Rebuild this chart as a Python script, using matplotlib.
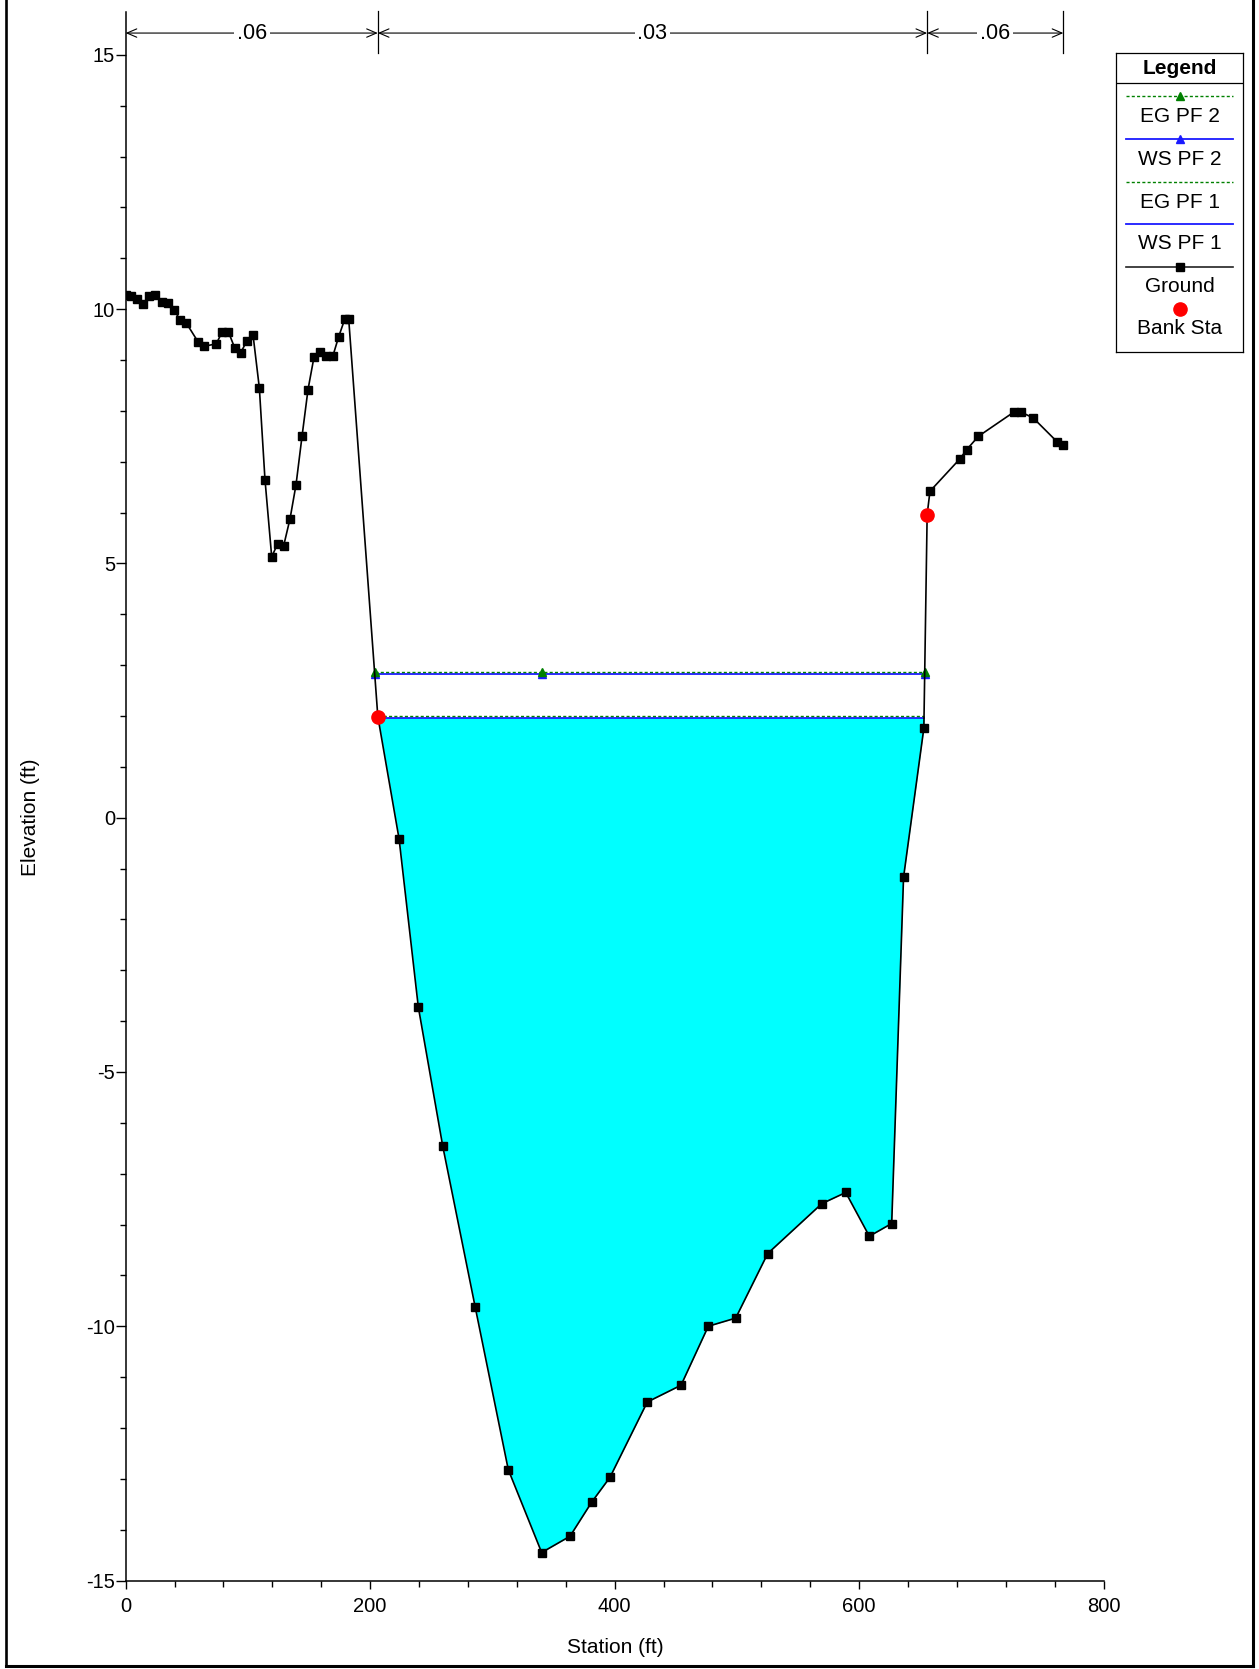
import numpy as np
import matplotlib
matplotlib.use('Agg')
import matplotlib.pyplot as plt
from matplotlib.lines import Line2D
from matplotlib.ticker import MultipleLocator

# ---------------- data ----------------
station = [0, 4.2, 9.1, 14.5, 19.4, 24.3, 29.5, 34.4, 39.6, 44.5, 49.6, 59.2, 64.4,
           74.2, 79.1, 84.0, 89.2, 94.1, 99.0, 104.2, 109.4, 114.0, 119.5, 124.4,
           129.3, 134.5, 139.4, 144.3, 149.2, 154.1, 159.0, 163.9, 169.4, 174.3,
           179.2, 182.5, 206.3, 223.7, 239.4, 259.4, 286.0, 313.0, 340.3, 363.5,
           381.2, 396.2, 426.7, 454.3, 476.6, 499.0, 525.2, 569.4, 589.0, 608.3,
           626.6, 636.3, 652.9, 655.6, 657.9, 682.5, 688.0, 697.5, 726.7, 732.2,
           742.4, 762.0, 767.0]
elevation = [10.27, 10.26, 10.20, 10.10, 10.25, 10.28, 10.14, 10.13, 9.99, 9.79, 9.73,
             9.36, 9.27, 9.32, 9.56, 9.56, 9.24, 9.14, 9.37, 9.50, 8.45, 6.65, 5.13,
             5.39, 5.35, 5.88, 6.55, 7.50, 8.42, 9.06, 9.15, 9.07, 9.07, 9.46, 9.80,
             9.80, 1.99, -0.42, -3.72, -6.46, -9.63, -12.82, -14.45, -14.13, -13.46,
             -12.97, -11.49, -11.16, -10.00, -9.84, -8.57, -7.59, -7.37, -8.23, -7.98,
             -1.17, 1.76, 5.96, 6.42, 7.06, 7.24, 7.50, 7.98, 7.98, 7.86, 7.39, 7.32]
bank_sta = [206.3, 655.6]
ws_pf1 = 1.97
eg_pf1 = 2.00
ws_pf2 = 2.83
eg_pf2 = 2.86
n_values = ['.06', '.03', '.06']
legend_labels = ['EG PF 2', 'WS PF 2', 'EG PF 1', 'WS PF 1', 'Ground', 'Bank Sta']
xticks = [0, 200, 400, 600, 800]
yticks = [-15, -10, -5, 0, 5, 10, 15]

# ---------------- setup ----------------
plt.rcParams['font.family'] = ['Liberation Sans', 'DejaVu Sans']
plt.rcParams['axes.unicode_minus'] = False
W, H = 1259, 1669
fig = plt.figure(figsize=(W / 100, H / 100), dpi=100)
FS = 14.5


def px_rect(l, t, r, b):
    return [l / W, 1 - b / H, (r - l) / W, (b - t) / H]


ax = fig.add_axes(px_rect(125.6, 11.7, 1103.7, 1580.5))
ax.set_xlim(0, 800)
ax.set_ylim(-15, 15.85)

st = np.array(station)
el = np.array(elevation)
i0 = int(np.argmin(el))


def wet_limits(level):
    i = i0
    while el[i - 1] < level:
        i -= 1
    xl = np.interp(level, [el[i], el[i - 1]], [st[i], st[i - 1]])
    j = i0
    while el[j + 1] < level:
        j += 1
    xr = np.interp(level, [el[j], el[j + 1]], [st[j], st[j + 1]])
    return xl, xr


GREEN = '#008000'
BLUE = '#1a1aff'
dash = (0, (2.2, 1.6))

# water fill (PF 1)
xl, xr = wet_limits(ws_pf1)
m = (st > xl) & (st < xr)
xs = np.concatenate([[xl], st[m], [xr]])
ys = np.concatenate([[ws_pf1], el[m], [ws_pf1]])
ax.fill_between(xs, ys, ws_pf1, color='#00ffff', lw=0, zorder=1)

# PF 1 lines
ax.plot([xl, xr], [ws_pf1, ws_pf1], color=BLUE, lw=1.3, zorder=2)
exl, exr = wet_limits(eg_pf1)
ax.plot([exl, exr], [eg_pf1, eg_pf1], color=GREEN, lw=1.0, ls=dash, zorder=2)

# PF 2 lines with markers
wl, wr = wet_limits(ws_pf2)
ax.plot([wl, st[i0], wr], [ws_pf2] * 3, color=BLUE, lw=1.3, marker='^', ms=5.5,
        mfc=BLUE, mec=BLUE, zorder=2)
gl, gr = wet_limits(eg_pf2)
ax.plot([gl, st[i0], gr], [eg_pf2] * 3, color=GREEN, lw=1.0, ls=dash, marker='^', ms=5.5,
        mfc=GREEN, mec=GREEN, zorder=2.5)

# ground
ax.plot(st, el, color='black', lw=1.2, marker='s', ms=6.2, zorder=3)

# bank stations
ax.plot(bank_sta, np.interp(bank_sta, st, el), ls='none', marker='o', ms=9.5,
        color='#ff0000', zorder=4)

# axes styling
for s in ['top', 'right']:
    ax.spines[s].set_visible(False)
for s in ['left', 'bottom']:
    ax.spines[s].set_linewidth(1.1)
ax.set_xticks(xticks)
ax.set_yticks(yticks)
ax.xaxis.set_minor_locator(MultipleLocator(40))
ax.yaxis.set_minor_locator(MultipleLocator(1))
ax.tick_params(axis='both', which='major', direction='out', width=1, labelsize=FS)
ax.tick_params(axis='y', which='major', length=7, pad=0.5)
ax.tick_params(axis='x', which='major', length=6, pad=5.8)
ax.tick_params(axis='both', which='minor', direction='out', width=1, length=4)

fig.text(615 / W, 1 - 1647 / H, 'Station (ft)', ha='center', va='center', fontsize=15)
fig.text(30 / W, 1 - 817 / H, 'Elevation (ft)', ha='center', va='center', rotation=90,
         fontsize=15)

# Manning's n annotation
bounds = [0, bank_sta[0], bank_sta[1], station[-1]]
y_arrow = 15.43
for b in bounds[1:]:
    ax.plot([b, b], [15.03, 15.87], color='black', lw=0.9, clip_on=False, zorder=5)
for k, nv in enumerate(n_values):
    x0, x1 = bounds[k], bounds[k + 1]
    ax.annotate('', xy=(x1, y_arrow), xytext=(x0, y_arrow),
                arrowprops=dict(arrowstyle='<->,head_length=0.7,head_width=0.3', lw=0.8,
                                color='black', shrinkA=0, shrinkB=0),
                annotation_clip=False, zorder=5)
    ax.text((x0 + x1) / 2, y_arrow, nv, ha='center', va='center', fontsize=15.5,
            bbox=dict(fc='white', ec='none', pad=2), zorder=6, clip_on=False)

# legend (HEC-RAS style)
lax = fig.add_axes(px_rect(1115.7, 53.3, 1243.3, 351.7))
lax.set_xlim(1115.7, 1243.3)
lax.set_ylim(351.7, 53.3)
lax.set_xticks([])
lax.set_yticks([])
for s in lax.spines.values():
    s.set_linewidth(0.9)
cx = 1179.5
lax.text(cx, 68, 'Legend', fontweight='bold', ha='center', va='center', fontsize=15)
lax.plot([1115.7, 1243.3], [83.3, 83.3], color='black', lw=0.9)
line_y = [96, 139, 181.7, 223.7, 267, 309.3]
text_y = [117, 159.3, 202, 243.3, 286.7, 328.3]
styles = [
    dict(color=GREEN, lw=1.0, ls=dash, marker='^', ms=5.5),
    dict(color=BLUE, lw=1.3, ls='-', marker='^', ms=5.5),
    dict(color=GREEN, lw=1.0, ls=dash, marker=None),
    dict(color=BLUE, lw=1.3, ls='-', marker=None),
    dict(color='#222222', lw=1.2, ls='-', marker='s', ms=6.2, mfc='black', mec='black'),
    dict(color='#ff0000', lw=0, ls='none', marker='o', ms=9.5),
]
for lab, ly, ty, sty in zip(legend_labels, line_y, text_y, styles):
    mk = sty.pop('marker', None)
    ms = sty.pop('ms', 6)
    mfc = sty.pop('mfc', sty['color'])
    mec = sty.pop('mec', sty['color'])
    if sty.get('ls') != 'none':
        lax.plot([1126, 1233], [ly, ly], **sty)
    if mk is not None:
        lax.plot([cx], [ly], ls='none', marker=mk, ms=ms, mfc=mfc, mec=mec)
    lax.text(cx, ty, lab, ha='center', va='center', fontsize=15)

# figure border
fig.add_artist(Line2D([6 / W, 6 / W], [1 - 1666 / H, 1.0], color='black', lw=1.9,
                      transform=fig.transFigure))
fig.add_artist(Line2D([6 / W, 1252.5 / W], [1 - 1666 / H, 1 - 1666 / H], color='black',
                      lw=2.2, transform=fig.transFigure))
fig.add_artist(Line2D([1252.5 / W, 1252.5 / W], [1 - 1666 / H, 1.0], color='black', lw=2.2,
                      transform=fig.transFigure))

fig.savefig('out.png', dpi=100)
